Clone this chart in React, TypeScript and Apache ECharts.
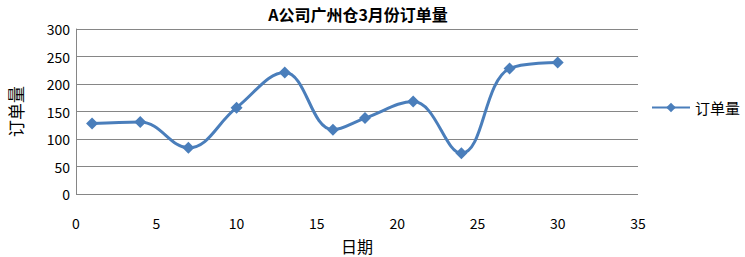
import React, { useEffect, useRef } from "react";
import * as echarts from "echarts";

const days = [1, 4, 7, 10, 13, 16, 18, 21, 24, 27, 30];
const orders = [128, 131, 84, 157, 221, 117, 138, 168, 74, 228, 239];
const seriesName = "订单量";
const titleText = "A公司广州仓3月份订单量";
const xName = "日期";
const yName = "订单量";

export default function App() {
  const ref = useRef<HTMLDivElement>(null);
  useEffect(() => {
    if (!ref.current) return;
    const chart = echarts.init(ref.current, null, { renderer: "svg" });
    const font = "'Noto Sans CJK SC', 'Noto Sans', sans-serif";
    chart.setOption({
      animation: false,
      backgroundColor: "#ffffff",
      title: {
        text: titleText,
        left: 353,
        textAlign: "center",
        top: 1,
        textStyle: { fontSize: 16, fontWeight: "bold", color: "#000", fontFamily: font },
      },
      legend: {
        show: true,
        left: 646,
        top: 95,
        orient: "vertical",
        itemWidth: 38,
        itemHeight: 12,
        itemGap: 4,
        textStyle: { fontSize: 15, color: "#000", fontFamily: font },
        data: [seriesName],
      },
      grid: { left: 76, right: 107, top: 29, bottom: 63, containLabel: false, outerBoundsMode: "none" },
      xAxis: {
        type: "value",
        min: 0,
        max: 35,
        interval: 5,
        name: xName,
        nameLocation: "middle",
        nameGap: 44,
        nameTextStyle: { fontSize: 16, color: "#000", fontFamily: font },
        axisLine: { show: false },
        axisTick: { show: false },
        splitLine: { show: false },
        axisLabel: { fontSize: 14, color: "#000", margin: 22, fontFamily: font },
      },
      yAxis: {
        type: "value",
        min: 0,
        max: 300,
        interval: 50,
        name: yName,
        nameLocation: "middle",
        nameGap: 52,
        nameRotate: 90,
        nameTextStyle: { fontSize: 17, color: "#000", fontFamily: font },
        axisLine: { show: true, lineStyle: { color: "#868686", width: 1 } },
        axisTick: { show: false },
        splitLine: { show: true, lineStyle: { color: "#868686", width: 1 } },
        axisLabel: { fontSize: 14, color: "#000", margin: 6, fontFamily: font },
      },
      series: [
        {
          name: seriesName,
          type: "line",
          smooth: 0.4,
          data: days.map((d, i) => [d, orders[i]]),
          symbol: "diamond",
          symbolSize: 12,
          lineStyle: { color: "#4A7EBB", width: 3 },
          itemStyle: { color: "#4A7EBB" },
        },
      ],
    });
    return () => chart.dispose();
  }, []);
  return <div ref={ref} style={{ width: 745, height: 257, position: "absolute", left: 0, top: 0 }} />;
}
